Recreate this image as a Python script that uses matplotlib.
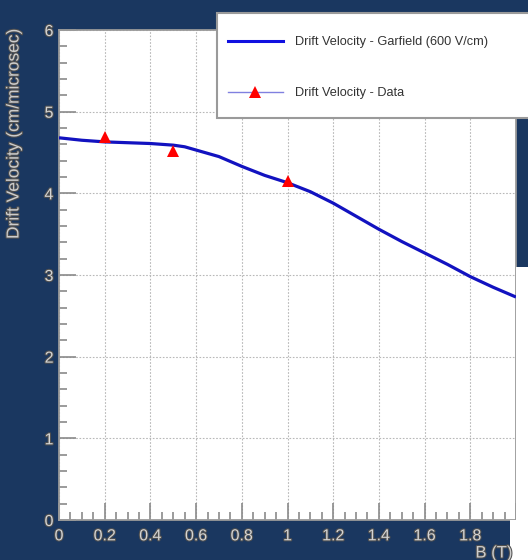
import matplotlib
matplotlib.use("Agg")
import matplotlib.pyplot as plt
import matplotlib.patheffects as pe
from matplotlib.lines import Line2D
from matplotlib.patches import Rectangle
from matplotlib.ticker import MultipleLocator

# ---- data ----
b_garfield = [0, 0.1, 0.2, 0.3, 0.4, 0.5, 0.55, 0.6, 0.7, 0.8, 0.9, 1.0, 1.1, 1.2,
              1.3, 1.4, 1.5, 1.6, 1.7, 1.8, 1.9, 2.0]
v_garfield = [4.68, 4.65, 4.63, 4.62, 4.61, 4.59, 4.57, 4.53, 4.45, 4.33, 4.22, 4.13,
              4.02, 3.88, 3.72, 3.56, 3.41, 3.27, 3.13, 2.98, 2.85, 2.73]
b_data = [0.2, 0.5, 1.0]
v_data = [4.69, 4.52, 4.15]
label_garfield = "Drift Velocity - Garfield (600 V/cm)"
label_data = "Drift Velocity - Data"
x_label = "B (T)"
y_label = "Drift Velocity (cm/microsec)"
x_ticks = [0, 0.2, 0.4, 0.6, 0.8, 1.0, 1.2, 1.4, 1.6, 1.8, 2.0]
x_tick_labels = ["0", "0.2", "0.4", "0.6", "0.8", "1", "1.2", "1.4", "1.6", "1.8", "2"]

W, H = 528, 560
NAVY = "#1a3760"
plt.rcParams['font.family'] = ['Liberation Sans', 'DejaVu Sans']

fig = plt.figure(figsize=(W / 100, H / 100), dpi=100, facecolor=NAVY)

def fx(px):
    return px / W

def fy(py):
    return 1 - py / H

# white decorative regions (canvas parts visible under the slide background)
fig.patches.append(Rectangle((fx(516), fy(560)), fx(12), (560 - 267) / H,
                             transform=fig.transFigure, facecolor="white",
                             edgecolor="none", zorder=0))
fig.patches.append(Rectangle((fx(510), fy(560)), fx(18), 40 / H,
                             transform=fig.transFigure, facecolor="white",
                             edgecolor="none", zorder=0))

ax = fig.add_axes([fx(59), fy(520), fx(516 - 59), (520 - 30) / H])
ax.set_facecolor("white")

ax.plot(b_garfield, v_garfield, color="#1212c0", lw=2.3, zorder=3, solid_capstyle="butt")
ax.plot(b_data, v_data, linestyle="none", marker="^", color="#ff0000",
        markersize=8, markeredgewidth=0, zorder=4)

ax.set_xlim(0, 2)
ax.set_ylim(0, 6)
ax.xaxis.set_minor_locator(MultipleLocator(0.05))
ax.yaxis.set_major_locator(MultipleLocator(1))
ax.yaxis.set_minor_locator(MultipleLocator(0.2))
ax.set_xticks(x_ticks)
ax.set_xticklabels(x_tick_labels)
ax.grid(True, which="major", color="#b8b8b8", linestyle=(0, (1.5, 1.5)), lw=0.8, zorder=1)

ax.tick_params(which="both", direction="in", color="#8a8a8a", width=1.2,
               top=False, right=False)
ax.tick_params(which="major", length=12)
ax.tick_params(which="minor", length=6)
ax.tick_params(axis="x", pad=6)
ax.tick_params(axis="y", pad=4)
stroke = [pe.withStroke(linewidth=1.5, foreground="#505050")]
for lab in ax.get_xticklabels() + ax.get_yticklabels():
    lab.set_fontsize(11.5)
    lab.set_color("#d4d4d4")
    lab.set_path_effects(stroke)

for side in ["left", "right", "top", "bottom"]:
    ax.spines[side].set_color("#9a9a9a")
    ax.spines[side].set_linewidth(1.3)

fig.text(fx(14), fy(28), y_label, rotation=90, ha="center", va="top",
         fontsize=12.5, color="#cccccc", path_effects=stroke)
fig.text(fx(494), fy(553), x_label, ha="center", va="center",
         fontsize=12, color="#cccccc", path_effects=stroke)

# legend box
fig.patches.append(Rectangle((fx(217), fy(118)), fx(320), (118 - 13) / H,
                             transform=fig.transFigure, facecolor="white",
                             edgecolor="#9a9a9a", lw=1.5, zorder=4))
h1 = Line2D([], [], color="#1010e0", lw=2.2)
h2 = Line2D([], [], color="#8080e0", lw=1.0, marker="^", markerfacecolor="#ff0000",
            markeredgewidth=0, markersize=8)
leg = fig.legend([h1, h2], [label_garfield, label_data], loc="upper left",
                 bbox_to_anchor=(fx(228), fy(36)), frameon=False, fontsize=9.2,
                 handlelength=4.3, handletextpad=0.94, labelspacing=3.05,
                 borderpad=0, borderaxespad=0)
leg.set_zorder(6)
for t in leg.get_texts():
    t.set_color("#333333")

fig.savefig("out.png", dpi=100, facecolor=NAVY)
